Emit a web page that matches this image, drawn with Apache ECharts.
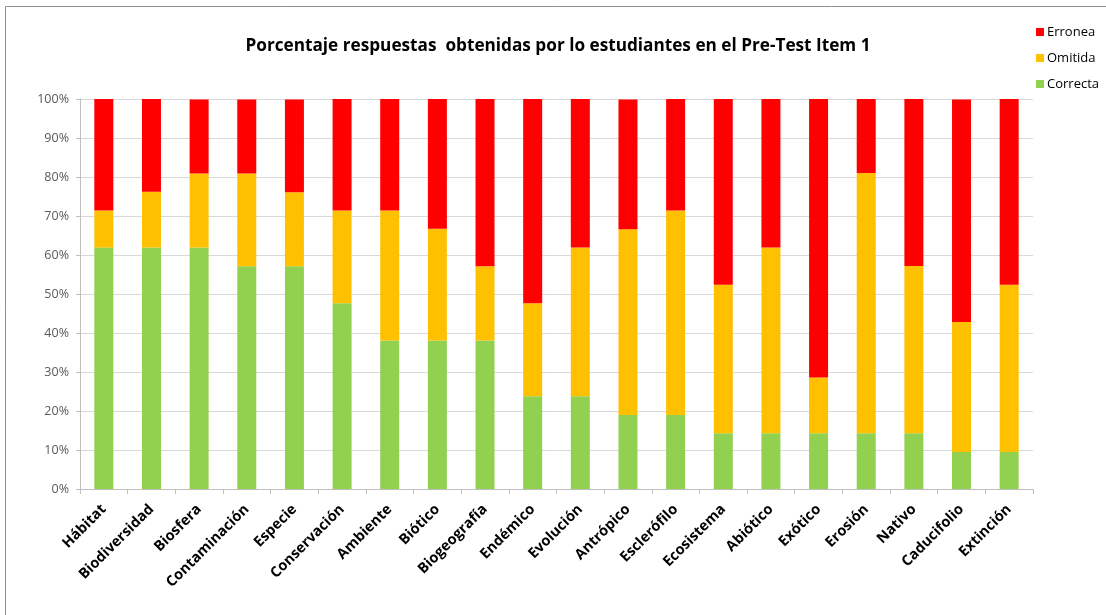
<!DOCTYPE html>
<html>
<head>
<meta charset="utf-8">
<script src="https://cdn.jsdelivr.net/npm/echarts@6/dist/echarts.min.js"></script>
<style>html,body{margin:0;padding:0;background:#fff}#c{width:1106px;height:615px}</style>
</head>
<body>
<div id="c"></div>
<script>
const categories = ['Hábitat','Biodiversidad','Biosfera','Contaminación','Especie','Conservación','Ambiente','Biótico','Biogeografía','Endémico','Evolución','Antrópico','Esclerófilo','Ecosistema','Abiótico','Exótico','Erosión','Nativo','Caducifolio','Extinción'];
const correcta = [61.9,61.9,61.9,57.1,57.1,47.6,38.1,38.1,38.1,23.8,23.8,19.0,19.0,14.3,14.3,14.3,14.3,14.3,9.5,9.5];
const omitida  = [9.5,14.3,19.0,23.8,19.0,23.8,33.3,28.6,19.0,23.8,38.1,47.6,52.4,38.1,47.6,14.3,66.7,42.9,33.3,42.9];
const erronea  = [28.6,23.8,19.0,19.0,23.8,28.6,28.6,33.3,42.9,52.4,38.1,33.3,28.6,47.6,38.1,71.4,19.0,42.9,57.1,47.6];
const yTicks = [0,10,20,30,40,50,60,70,80,90,100];
const titleText = 'Porcentaje respuestas  obtenidas por lo estudiantes en el Pre-Test Item 1';

const chart = echarts.init(document.getElementById('c'));
const font = '"Open Sans", sans-serif';
chart.setOption({
  animation: false,
  backgroundColor: '#fff',
  graphic: [{
    type: 'rect', shape: {x: 5.5, y: 6.5, width: 1200, height: 700},
    style: {fill: 'none', stroke: '#8f8f8f', lineWidth: 1}, silent: true, z: -1
  }],
  title: {
    text: titleText, left: 553, top: 33, textAlign: 'center',
    textStyle: {fontFamily: font, fontSize: 17.2, fontWeight: 'bold', color: '#000'}
  },
  legend: {
    orient: 'vertical', left: 1031, top: 19,
    data: ['Erronea','Omitida','Correcta'],
    icon: 'rect', itemWidth: 8, itemHeight: 8, itemGap: 10,
    textStyle: {fontFamily: font, fontSize: 13, color: '#000', lineHeight: 16, padding: [0,0,0,-2]}
  },
  grid: {left: 80, right: 73, top: 99, bottom: 126, containLabel: false},
  xAxis: {
    type: 'category', data: categories,
    axisLine: {lineStyle: {color: '#bfbfbf'}},
    axisTick: {show: true, alignWithLabel: false, length: 5, lineStyle: {color: '#bfbfbf'}},
    axisLabel: {rotate: 45, interval: 0, margin: 18, fontFamily: font, fontSize: 14.5, fontWeight: 'bold', color: '#000'}
  },
  yAxis: {
    type: 'value', min: 0, max: 100, interval: 10,
    axisLine: {show: true, lineStyle: {color: '#bfbfbf'}},
    axisTick: {show: true, length: 4, lineStyle: {color: '#bfbfbf'}},
    splitLine: {lineStyle: {color: '#d9d9d9'}},
    axisLabel: {formatter: v => yTicks.includes(v) ? v + '%' : '', margin: 11, fontFamily: font, fontSize: 12.5, color: '#595959'}
  },
  series: [
    {name: 'Correcta', type: 'bar', stack: 't', data: correcta, barWidth: 19, itemStyle: {color: '#92D050'}},
    {name: 'Omitida', type: 'bar', stack: 't', data: omitida, barWidth: 19, itemStyle: {color: '#FFC000'}},
    {name: 'Erronea', type: 'bar', stack: 't', data: erronea, barWidth: 19, itemStyle: {color: '#FF0000'}}
  ]
});
</script>
</body>
</html>
